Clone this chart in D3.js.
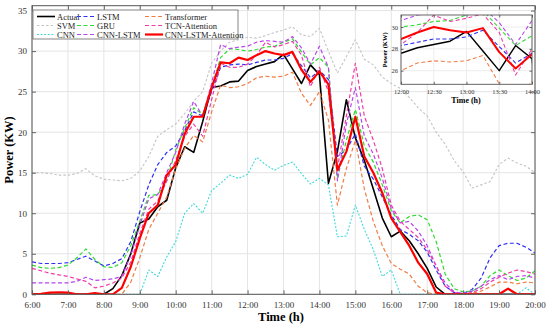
<!DOCTYPE html>
<html>
<head>
<meta charset="utf-8">
<script src="https://cdn.jsdelivr.net/npm/d3@7"></script>
<style>
  body { margin: 0; background: #fff; }
  svg { display: block; }
  text { font-family: "Liberation Serif", "Times New Roman", serif; }
</style>
</head>
<body>
<svg id="chart" width="550" height="326"></svg>
<script>
// 15 minute steps from 6:00 to 20:00 (57 points)
var hourTicks = [6, 7, 8, 9, 10, 11, 12, 13, 14, 15, 16, 17, 18, 19, 20];
var powerTicks = [0, 5, 10, 15, 20, 25, 30, 35];
var insetHourTicks = [12, 12.5, 13, 13.5, 14];
var insetPowerTicks = [26, 28, 30];

var actual = [0, 0, 0, 0, 0, 0, 0, 0, 0, 0.7, 2.3, 5.0, 8.8, 9.3, 10.8, 11.6, 15.6, 18.2, 17.5, 21.3,
  25.5, 25.7, 26.2, 26.3, 27.6, 28.1, 28.4, 28.7, 29.6, 27.8, 26.0, 28.3, 27.1, 13.7, 17.6, 24.0,
  19.3, 16.5, 13.0, 9.4, 7.1, 7.8, 6.6, 5.0, 3.2, 0.9, 0, 0, 0, 0, 0, 0, 0, 0, 0, 0, 0];
var svm = [15.0, 15.0, 14.9, 14.7, 14.7, 14.9, 15.5, 14.6, 14.2, 14.1, 14.0, 14.3, 15.2, 17.0, 19.5, 20.3,
  21.0, 22.3, 23.8, 25.0, 28.5, 30.0, 31.1, 31.4, 31.7, 31.6, 31.9, 32.3, 32.6, 33.0, 32.0, 31.8, 32.8,
  30.0, 27.3, 29.3, 31.4, 29.0, 28.3, 26.8, 26.0, 25.4, 24.3, 23.0, 22.0, 20.0, 18.5, 16.5, 15.1, 13.1,
  13.5, 13.9, 16.0, 16.8, 16.2, 15.8, 15.0];
var cnn = [0, 0, 0, 0, 0, 0, 0, 0, 0, 0, 0, 0, 0, 3.0, 2.2, 4.6, 6.5, 10.0, 11.2, 10.0, 12.8, 13.7, 14.7,
  14.3, 14.8, 16.9, 16.0, 15.3, 15.9, 16.3, 14.9, 13.6, 14.3, 13.5, 7.1, 7.2, 11.0, 8.0, 5.5, 2.2, 3.0,
  0, 0, 0, 0, 0, 0, 0, 0, 0, 0, 0, 0, 0, 0, 0.8, 0];
var lstm = [4.0, 3.8, 3.8, 3.8, 3.9, 4.3, 4.7, 4.1, 3.5, 3.8, 4.4, 6.5, 10.2, 13.5, 16.0, 17.5, 18.3, 20.2,
  22.5, 22.0, 25.0, 28.0, 28.3, 28.4, 28.3, 28.6, 28.9, 28.9, 29.1, 29.7, 28.2, 26.7, 27.6, 26.5, 17.0,
  17.8, 19.8, 15.8, 14.2, 12.0, 9.8, 8.0, 7.4, 6.6, 5.2, 3.0, 1.0, 0.2, 0.1, 0.6, 2.0, 4.5, 6.0, 6.3,
  6.3, 5.8, 5.1];
var gru = [3.6, 3.3, 3.2, 3.3, 3.6, 4.5, 5.6, 4.3, 3.4, 3.3, 3.9, 6.0, 9.0, 12.2, 12.3, 14.0, 17.8, 20.5,
  23.0, 22.2, 25.5, 29.2, 30.3, 30.2, 30.0, 30.2, 30.5, 30.6, 31.1, 31.5, 29.9, 28.3, 29.2, 28.0, 14.3,
  19.0, 22.8, 18.3, 16.3, 13.5, 10.3, 8.8, 9.6, 9.8, 9.2, 6.5, 2.5, 0.7, 0.3, 0.4, 1.0, 2.3, 3.0, 2.3,
  1.7, 2.0, 2.9];
var cnnLstm = [1.4, 1.4, 1.4, 1.4, 1.4, 1.6, 2.1, 1.7, 1.8, 1.9, 2.2, 4.8, 8.5, 11.8, 12.3, 15.0, 17.5,
  21.0, 23.8, 22.0, 26.0, 30.8, 30.3, 30.5, 30.6, 31.1, 31.3, 31.2, 31.1, 31.8, 30.4, 28.4, 30.6, 28.0,
  14.0, 21.0, 25.5, 19.5, 17.3, 14.3, 10.6, 8.8, 9.0, 7.8, 6.0, 3.5, 1.4, 0.3, 0.1, 0.4, 1.0, 1.8, 2.3,
  1.8, 2.2, 2.3, 2.0];
var transformer = [0, 0, 0, 0, 0, 0, 0, 0, 0, 0, 0, 1.5, 4.5, 8.0, 10.0, 12.0, 15.5, 18.0, 19.6, 18.8,
  22.5, 25.8, 25.5, 25.6, 26.0, 26.7, 26.9, 26.8, 26.9, 27.4, 24.8, 23.3, 25.0, 21.5, 11.0, 15.5, 19.0,
  13.0, 9.0, 6.0, 3.8, 3.1, 2.5, 1.0, 0.2, 0, 0, 0, 0, 0.1, 0.4, 0.9, 1.5, 1.5, 1.3, 1.5, 1.4];
var tcnAttention = [3.2, 2.9, 2.6, 2.4, 2.2, 1.9, 1.6, 0.8, 1.0, 1.4, 2.0, 4.0, 7.5, 10.5, 11.5, 14.0,
  16.5, 19.5, 21.0, 19.5, 24.0, 28.5, 28.0, 28.0, 28.4, 29.5, 31.1, 30.5, 30.8, 31.2, 29.5, 25.6, 28.0,
  25.0, 15.5, 22.0, 28.5, 22.0, 19.0, 15.5, 11.0, 9.0, 8.0, 7.0, 5.5, 3.5, 1.0, 0.2, 0.1, 0.2, 0.7, 1.5,
  2.1, 2.6, 3.0, 2.8, 2.5];
var cnnLstmAttention = [0, 0.05, 0.2, 0.25, 0.2, 0, 0, 0.15, 0, 0, 0.8, 3.4, 6.9, 10.0, 11.0, 14.7, 16.0,
  19.8, 21.9, 21.9, 25.5, 28.6, 28.5, 29.2, 28.9, 29.5, 30.0, 29.7, 29.5, 29.9, 27.7, 26.2, 27.5, 25.9,
  15.3, 17.6, 21.9, 17.0, 15.0, 12.5, 9.4, 7.7, 6.0, 3.9, 2.5, 0.2, 0, 0, 0, 0, 0, 0, 0, 0.7, 0, 0, 0];

var models = [
  { name: 'Actual', values: actual, color: '#000000', width: 1.6, dash: null },
  { name: 'SVM', values: svm, color: '#c4c4c4', width: 1.1, dash: '2.5,2' },
  { name: 'CNN', values: cnn, color: '#3fdada', width: 1.1, dash: '2,1.6' },
  { name: 'LSTM', values: lstm, color: '#2f2ff5', width: 1.2, dash: '4,2.5' },
  { name: 'GRU', values: gru, color: '#2edb2e', width: 1.2, dash: '4,2.5' },
  { name: 'CNN-LSTM', values: cnnLstm, color: '#b845ee', width: 1.2, dash: '4,2.5' },
  { name: 'Transformer', values: transformer, color: '#f07d45', width: 1.2, dash: '4,2.5' },
  { name: 'TCN-Attention', values: tcnAttention, color: '#f03ca8', width: 1.2, dash: '4,2.5' },
  { name: 'CNN-LSTM-Attention', values: cnnLstmAttention, color: '#ff0000', width: 2.2, dash: null }
];

var svg = d3.select('#chart');
var plotLeft = 32, plotRight = 535, plotTop = 5.7, plotBottom = 294.3;

var x = d3.scaleLinear().domain([6, 20]).range([plotLeft, plotRight]);
var y = d3.scaleLinear().domain([0, 35.6]).range([plotBottom, plotTop]);

function timeOf(i) { return 6 + i / 4; }

svg.append('clipPath').attr('id', 'mainClip')
  .append('rect').attr('x', plotLeft).attr('y', plotTop)
  .attr('width', plotRight - plotLeft).attr('height', plotBottom - plotTop);

// grid
var grid = svg.append('g').attr('class', 'grid');
grid.selectAll('.gx').data(hourTicks).enter().append('line')
  .attr('x1', function(d) { return x(d); }).attr('x2', function(d) { return x(d); })
  .attr('y1', plotTop).attr('y2', plotBottom)
  .attr('stroke', '#e4e4e4').attr('stroke-width', 1);
grid.selectAll('.gy').data(powerTicks).enter().append('line')
  .attr('x1', plotLeft).attr('x2', plotRight)
  .attr('y1', function(d) { return y(d); }).attr('y2', function(d) { return y(d); })
  .attr('stroke', '#e4e4e4').attr('stroke-width', 1);

// series
var lines = svg.append('g').attr('clip-path', 'url(#mainClip)');
var line = d3.line()
  .x(function(d, i) { return x(timeOf(i)); })
  .y(function(d) { return y(d); });

models.forEach(function(m) {
  lines.append('path')
    .datum(m.values)
    .attr('d', line)
    .attr('fill', 'none')
    .attr('stroke', m.color)
    .attr('stroke-width', m.width)
    .attr('stroke-dasharray', m.dash)
    .attr('stroke-linejoin', 'round');
});

// axes with inward ticks on all four sides
function styleAxis(g) {
  g.select('.domain').remove();
  g.selectAll('.tick line').attr('stroke', '#666');
  g.selectAll('.tick text')
    .attr('fill', '#333')
    .style('font-family', '"Liberation Serif", "Times New Roman", serif')
    .style('font-size', '9px');
}

svg.append('g')
  .attr('transform', 'translate(0,' + plotBottom + ')')
  .call(d3.axisBottom(x).tickValues(hourTicks)
    .tickFormat(function(d) { return d + ':00'; })
    .tickSizeInner(-4).tickSizeOuter(0).tickPadding(7))
  .call(styleAxis);

svg.append('g')
  .attr('transform', 'translate(0,' + plotTop + ')')
  .call(d3.axisTop(x).tickValues(hourTicks).tickFormat('')
    .tickSizeInner(-4).tickSizeOuter(0))
  .call(styleAxis);

svg.append('g')
  .attr('transform', 'translate(' + plotLeft + ',0)')
  .call(d3.axisLeft(y).tickValues(powerTicks).tickFormat(d3.format('d'))
    .tickSizeInner(-4).tickSizeOuter(0).tickPadding(5))
  .call(styleAxis);

svg.append('g')
  .attr('transform', 'translate(' + plotRight + ',0)')
  .call(d3.axisRight(y).tickValues(powerTicks).tickFormat('')
    .tickSizeInner(-4).tickSizeOuter(0))
  .call(styleAxis);

svg.append('rect')
  .attr('x', plotLeft).attr('y', plotTop)
  .attr('width', plotRight - plotLeft).attr('height', plotBottom - plotTop)
  .attr('fill', 'none').attr('stroke', '#555').attr('stroke-width', 1);

// axis titles
svg.append('text')
  .attr('x', 281).attr('y', 321)
  .attr('text-anchor', 'middle')
  .style('font-size', '12.5px').style('font-weight', 'bold')
  .text('Time (h)');

svg.append('text')
  .attr('transform', 'translate(13,' + ((plotTop + plotBottom) / 2) + ') rotate(-90)')
  .attr('text-anchor', 'middle')
  .style('font-size', '12.5px').style('font-weight', 'bold')
  .text('Power (KW)');

// legend, filled column by column like the original
var legend = svg.append('g');
legend.append('rect')
  .attr('x', 33).attr('y', 10).attr('width', 205).attr('height', 29)
  .attr('fill', '#fff').attr('stroke', '#666').attr('stroke-width', 0.8);

var colX = [37, 77, 145];
var rowY = [16.5, 25.5, 34.5];
models.forEach(function(m, i) {
  var cx = colX[Math.floor(i / 3)], cy = rowY[i % 3];
  legend.append('line')
    .attr('x1', cx).attr('x2', cx + 18).attr('y1', cy).attr('y2', cy)
    .attr('stroke', m.color).attr('stroke-width', m.width)
    .attr('stroke-dasharray', m.dash);
  legend.append('text')
    .attr('x', cx + 20).attr('y', cy + 3)
    .attr('fill', '#222')
    .style('font-size', '8.5px')
    .text(m.name);
});

// inset zoom 12:00 - 14:00
var ix = d3.scaleLinear().domain([12, 14]).range([401, 532]);
var iy = d3.scaleLinear().domain([24.75, 31.1]).range([84.3, 15]);
var inset = svg.append('g');

inset.append('rect')
  .attr('x', 401).attr('y', 15).attr('width', 131).attr('height', 69.3)
  .attr('fill', '#fff');

svg.append('clipPath').attr('id', 'insetClip')
  .append('rect').attr('x', 401).attr('y', 15).attr('width', 131).attr('height', 69.3);

inset.selectAll('.igx').data(insetHourTicks).enter().append('line')
  .attr('x1', function(d) { return ix(d); }).attr('x2', function(d) { return ix(d); })
  .attr('y1', 15).attr('y2', 84.3)
  .attr('stroke', '#ececec');
inset.selectAll('.igy').data(insetPowerTicks).enter().append('line')
  .attr('x1', 401).attr('x2', 532)
  .attr('y1', function(d) { return iy(d); }).attr('y2', function(d) { return iy(d); })
  .attr('stroke', '#ececec');

var insetLine = d3.line()
  .defined(function(d, i) { return timeOf(i) >= 11.75 && timeOf(i) <= 14.25; })
  .x(function(d, i) { return ix(timeOf(i)); })
  .y(function(d) { return iy(d); });

var insetLines = inset.append('g').attr('clip-path', 'url(#insetClip)');
models.forEach(function(m) {
  insetLines.append('path')
    .datum(m.values)
    .attr('d', insetLine)
    .attr('fill', 'none')
    .attr('stroke', m.color)
    .attr('stroke-width', m.width * 0.9)
    .attr('stroke-dasharray', m.dash)
    .attr('stroke-linejoin', 'round');
});

function styleInsetAxis(g) {
  g.select('.domain').remove();
  g.selectAll('.tick line').attr('stroke', '#666');
  g.selectAll('.tick text')
    .attr('fill', '#333')
    .style('font-family', '"Liberation Serif", "Times New Roman", serif')
    .style('font-size', '6.5px');
}

inset.append('g')
  .attr('transform', 'translate(0,84.3)')
  .call(d3.axisBottom(ix).tickValues(insetHourTicks)
    .tickFormat(function(d) { return Math.floor(d) + ':' + (d % 1 ? '30' : '00'); })
    .tickSizeInner(-2.5).tickSizeOuter(0).tickPadding(5))
  .call(styleInsetAxis);
inset.append('g')
  .attr('transform', 'translate(0,15)')
  .call(d3.axisTop(ix).tickValues(insetHourTicks).tickFormat('')
    .tickSizeInner(-2.5).tickSizeOuter(0))
  .call(styleInsetAxis);
inset.append('g')
  .attr('transform', 'translate(401,0)')
  .call(d3.axisLeft(iy).tickValues(insetPowerTicks).tickFormat(d3.format('d'))
    .tickSizeInner(-2.5).tickSizeOuter(0).tickPadding(3))
  .call(styleInsetAxis);
inset.append('g')
  .attr('transform', 'translate(532,0)')
  .call(d3.axisRight(iy).tickValues(insetPowerTicks).tickFormat('')
    .tickSizeInner(-2.5).tickSizeOuter(0))
  .call(styleInsetAxis);

inset.append('rect')
  .attr('x', 401).attr('y', 15).attr('width', 131).attr('height', 69.3)
  .attr('fill', 'none').attr('stroke', '#555').attr('stroke-width', 0.9);

inset.append('text')
  .attr('x', 466).attr('y', 102.5)
  .attr('text-anchor', 'middle')
  .style('font-size', '8px').style('font-weight', 'bold')
  .text('Time (h)');
inset.append('text')
  .attr('transform', 'translate(387,50) rotate(-90)')
  .attr('text-anchor', 'middle')
  .style('font-size', '6.5px').style('font-weight', 'bold')
  .text('Power (KW)');
</script>
</body>
</html>
